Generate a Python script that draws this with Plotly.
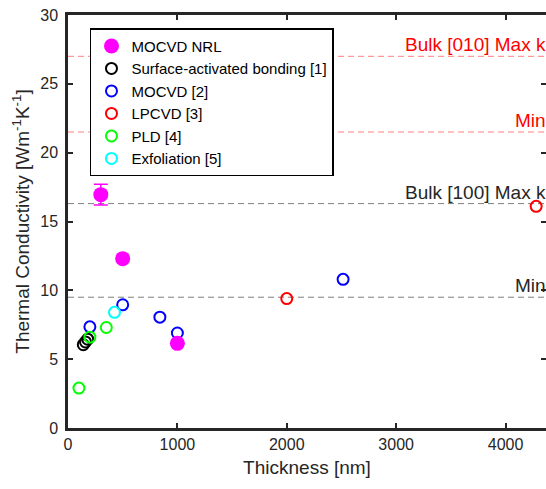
import plotly.graph_objects as go

# ---------------- data ----------------
nrl_x = [300, 500, 1000]
nrl_y = [16.95, 12.3, 6.15]
nrl_err = [0.75, 0, 0]

sab_x = [140, 160, 180]
sab_y = [6.05, 6.25, 6.45]

mocvd_x = [200, 500, 840, 1000, 2515]
mocvd_y = [7.35, 8.95, 8.05, 6.9, 10.8]

lpcvd_x = [2000, 4280]
lpcvd_y = [9.4, 16.1]

pld_x = [100, 200, 350, 500]
pld_y = [2.9, 6.6, 7.3, 12.3]

exf_x = [425]
exf_y = [8.4]

ref_levels = [27.0, 21.5, 16.3, 9.5]
ref_labels = ["Bulk [010] Max k", "Min", "Bulk [100] Max k", "Min"]
ref_colors = ["red", "red", "#262626", "#262626"]
ref_line_colors = ["rgba(255,0,0,0.5)", "rgba(255,0,0,0.5)", "rgba(0,0,0,0.5)", "rgba(0,0,0,0.5)"]

x_ticks = [0, 1000, 2000, 3000, 4000]
y_ticks = [0, 5, 10, 15, 20, 25, 30]
x_range = [0, 4370]
y_range = [0, 30]

FONT = "Liberation Sans, Arial, sans-serif"
AX = "#262626"

fig = go.Figure()

def open_series(x, y, color, name, rank):
    fig.add_trace(go.Scatter(
        x=x, y=y, mode="markers", name=name, legendrank=rank,
        marker=dict(symbol="circle-open", size=11, color=color, line=dict(width=2, color=color)),
    ))

open_series(sab_x, sab_y, "#000000", "Surface-activated bonding [1]", 2)
open_series(mocvd_x, mocvd_y, "#0000ff", "MOCVD [2]", 3)
open_series(lpcvd_x, lpcvd_y, "#ff0000", "LPCVD [3]", 4)
open_series(pld_x, pld_y, "#00ff00", "PLD [4]", 5)
open_series(exf_x, exf_y, "#00ffff", "Exfoliation [5]", 6)

fig.add_trace(go.Scatter(
    x=nrl_x, y=nrl_y, mode="markers", name="MOCVD NRL", legendrank=1,
    marker=dict(symbol="circle", size=15, color="#ff00ff"),
    error_y=dict(type="data", array=nrl_err, visible=True, color="#ff00ff", thickness=1.5, width=7),
))

# dummy trace for right-side mirrored ticks
fig.add_trace(go.Scatter(x=[None], y=[None], yaxis="y2", showlegend=False, hoverinfo="skip"))

for lvl, lab, tc, lc in zip(ref_levels, ref_labels, ref_colors, ref_line_colors):
    fig.add_shape(type="line", xref="paper", x0=0, x1=1, yref="y", y0=lvl, y1=lvl,
                  line=dict(color=lc, width=1, dash="6px,4px"), layer="below")
    fig.add_annotation(xref="paper", x=1, xanchor="right", xshift=2, y=lvl, yanchor="bottom",
                       yshift=-1, text=lab, showarrow=False,
                       font=dict(family=FONT, size=19, color=tc))

fig.update_layout(
    width=546, height=489,
    margin=dict(l=68, r=0, t=15, b=61, autoexpand=False),
    paper_bgcolor="white", plot_bgcolor="white",
    font=dict(family=FONT, size=16, color=AX),
    showlegend=True,
    legend=dict(
        x=0.046, y=0.968, xanchor="left", yanchor="top",
        bgcolor="white", bordercolor="#000000", borderwidth=1.5,
        font=dict(family=FONT, size=15, color="#000000"),
        tracegroupgap=0, itemwidth=30,
    ),
    xaxis=dict(
        range=x_range, tickvals=x_ticks, ticks="inside", ticklen=5, tickwidth=1.5, tickcolor=AX,
        showline=True, linewidth=2.5, linecolor=AX, mirror="ticks", showgrid=False, zeroline=False,
        automargin=False,
        title=dict(text="Thickness [nm]", font=dict(size=19, color=AX), standoff=9),
        tickfont=dict(size=16, color=AX),
    ),
    yaxis=dict(
        range=y_range, tickvals=y_ticks, ticks="inside", ticklen=5, tickwidth=1.5, tickcolor=AX,
        showline=True, linewidth=2.5, linecolor=AX, mirror=False, showgrid=False, zeroline=False,
        automargin=False, ticklabelstandoff=4,
        title=dict(text="Thermal Conductivity [Wm<sup>-1</sup>K<sup>-1</sup>]", font=dict(size=19, color=AX), standoff=6),
        tickfont=dict(size=16, color=AX),
    ),
    yaxis2=dict(
        range=y_range, tickvals=y_ticks, overlaying="y", side="right", ticks="inside", ticklen=5,
        tickwidth=1.5, tickcolor=AX, showticklabels=False, showline=False, showgrid=False, zeroline=False,
        automargin=False,
    ),
)

fig.write_html("out.html", config={"displayModeBar": False},
               post_script="document.body.style.margin='0';document.body.style.overflow='hidden';")
